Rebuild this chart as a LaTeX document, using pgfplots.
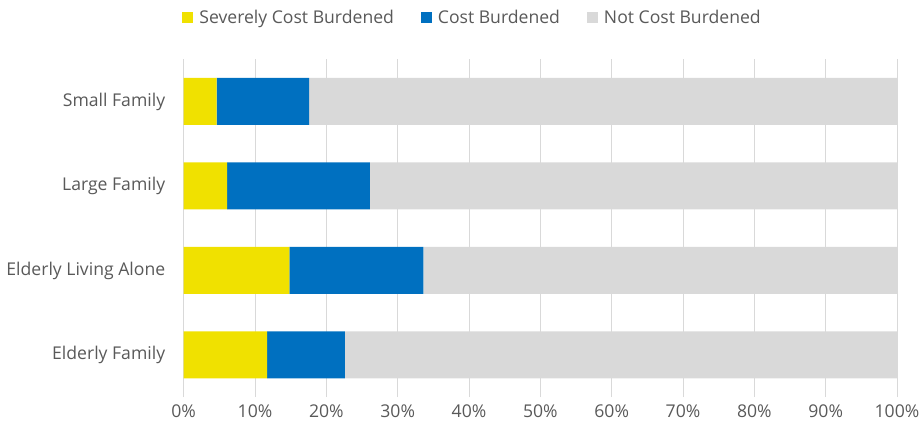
\documentclass[border=0pt]{standalone}
\usepackage{pgfplots}
\pgfplotsset{compat=1.18}
\usepackage{fontspec}
\setmainfont{Open Sans}
\definecolor{cyel}{HTML}{F0E100}
\definecolor{cblue}{HTML}{0070C0}
\definecolor{cgray}{HTML}{D9D9D9}
\definecolor{ctxt}{HTML}{595959}
\begin{document}
\begin{tikzpicture}
\useasboundingbox (-183.7bp,-36.8bp) rectangle (737.3bp,397.2bp);
\begin{axis}[
  at={(0,0)}, anchor=south west,
  scale only axis,
  width=713.3bp, height=338bp,
  xbar stacked,
  bar width=47bp,
  xmin=0, xmax=100,
  ymin=-0.5, ymax=3.5,
  xtick={0,10,...,100},
  xticklabel={\pgfmathprintnumber{\tick}\%},
  ytick={0,1,2,3},
  yticklabels={Elderly Family, Elderly Living Alone, Large Family, Small Family},
  xmajorgrids,
  grid style={color=cgray, line width=1bp},
  axis line style={draw=none},
  major tick length=0pt,
  /pgf/number format/assume math mode=true,
  tick label style={font=\fontsize{17.6bp}{20bp}\selectfont, text=ctxt},
  xticklabel style={yshift=-4bp},
  yticklabel style={xshift=-15bp},
  legend columns=3,
  legend style={at={(rel axis cs:0.405,1.122)}, anchor=center, draw=none,
    font=\fontsize{17.6bp}{20bp}\selectfont, text=ctxt,
    /tikz/every even column/.append style={column sep=25bp},
    /tikz/every odd column/.append style={column sep=4bp}},
  legend image code/.code={\fill[#1] (0bp,-5.5bp) rectangle (11bp,5.5bp);},
]
\addplot[fill=cyel, draw=none] coordinates {(11.7,0) (14.8,1) (6.1,2) (4.6,3)};
\addplot[fill=cblue, draw=none] coordinates {(10.9,0) (18.8,1) (20.0,2) (13.0,3)};
\addplot[fill=cgray, draw=none] coordinates {(77.4,0) (66.4,1) (73.9,2) (82.4,3)};
\legend{Severely Cost Burdened, Cost Burdened, Not Cost Burdened}
\end{axis}
\end{tikzpicture}
\end{document}
